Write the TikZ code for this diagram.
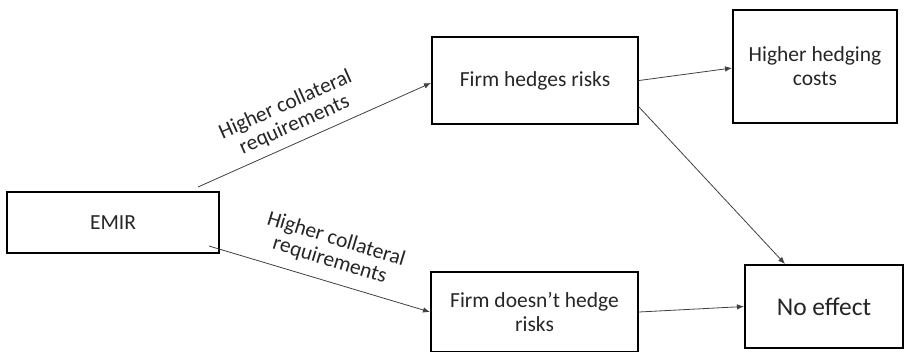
\documentclass[tikz,border=0pt]{standalone}
\usepackage{fontspec}
\setmainfont{Carlito}
\usetikzlibrary{arrows.meta,calc}
\begin{document}
\begin{tikzpicture}[x=1pt,y=-1pt,
  box/.style={draw=black,line width=2pt,inner sep=2pt,align=center,font=\fontsize{21.5}{24}\selectfont,text=black!85},
  conn/.style={draw=black!75,line width=0.8pt,-{Latex[length=7pt,width=5.5pt]}},
  lab/.style={align=center,font=\fontsize{21.5}{22}\selectfont,text=black!85,inner sep=0pt}]
\useasboundingbox (0,0) rectangle (905,351);
\node[box,minimum width=212pt,minimum height=61pt] (emir) at (113,222.5) {EMIR};
\node[box,minimum width=206pt,minimum height=87pt] (hedge) at (535,80.5) {Firm hedges risks};
\node[box,minimum width=164pt,minimum height=113pt,text depth=0pt] (cost) at (815,66.5) {Higher hedging\\costs};
\node[box,minimum width=207pt,minimum height=80pt] (nohedge) at (534.5,312) {Firm doesn’t hedge\\risks};
\node[box,minimum width=158pt,minimum height=83pt,font=\fontsize{25.5}{28}\selectfont] (noeff) at (824,306.5) {No effect};
\draw[conn] ([xshift=-22pt,yshift=4pt]emir.north east) -- ([yshift=-2.5pt]hedge.west);
\draw[conn] ([xshift=-11pt,yshift=8pt]emir.south east) -- (nohedge.west);
\draw[conn] (hedge.east) -- ([yshift=-1.5pt]cost.west);
\draw[conn] ([yshift=18pt]hedge.south east) -- ([xshift=-39pt]noeff.north);
\draw[conn] (nohedge.east) -- (noeff.west);
\node[lab,rotate=24] (l1) at (290,115) {Higher collateral\\requirements};
\node[lab,rotate=-17] (l2) at (333,250) {Higher collateral\\requirements};
\end{tikzpicture}
\end{document}
